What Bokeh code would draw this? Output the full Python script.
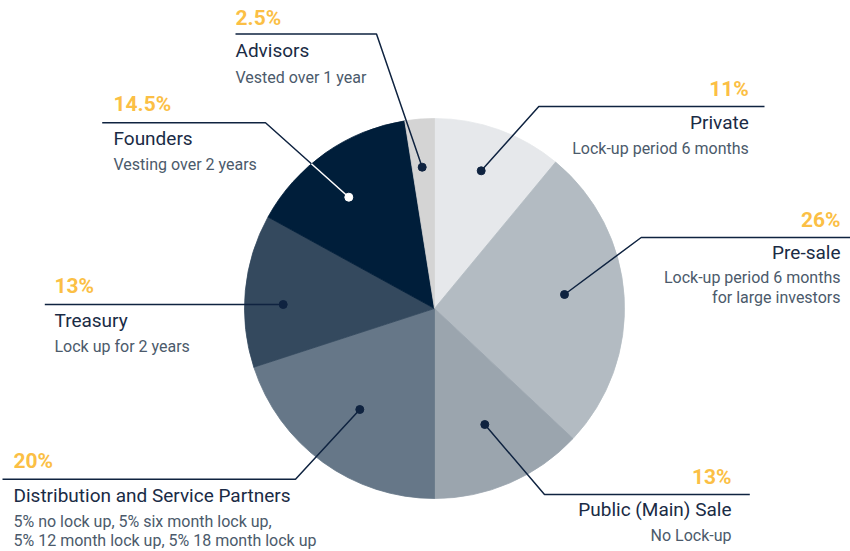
import numpy as np
from bokeh.plotting import figure
from bokeh.models import Range1d
from bokeh.core.properties import value
from bokeh.embed import file_html
from bokeh.resources import INLINE

# ---- data ----
names = ["Private", "Pre-sale", "Public (Main) Sale", "Distribution and Service Partners",
         "Treasury", "Founders", "Advisors"]
shares = [11, 26, 13, 20, 13, 14.5, 2.5]
pct_labels = ["11%", "26%", "13%", "20%", "13%", "14.5%", "2.5%"]
notes = [
    ["Lock-up period 6 months"],
    ["Lock-up period 6 months", "for large investors"],
    ["No Lock-up"],
    ["5% no lock up, 5% six month lock up,", "5% 12 month lock up, 5% 18 month lock up"],
    ["Lock up for 2 years"],
    ["Vesting over 2 years"],
    ["Vested over 1 year"],
]
colors = ["#e6e8eb", "#b3bbc2", "#9ba5ae", "#667788", "#34495e", "#001e3a", "#d4d4d4"]

# ---- layout (screen pixel coordinates, y downward) ----
W, H = 850, 551
CX, CY, R = 434, 308, 190
anchors = [(480.7, 170.3), (564, 294), (484.3, 424), (359.3, 409), (282.7, 304), (348.3, 196.7), (421.7, 166.7)]
elbows = [[(538.3, 106), (764, 106)], [(640.7, 237), (850, 237)], [(544, 494), (749.3, 494)],
          [(295, 478.7), (2, 478.7)], [(44.3, 304)], [(265, 122.3), (101.7, 122.3)],
          [(376, 33.5), (235, 33.5)]]
# text block: x, align, baseline of pct, title, first note, note line spacing
blocks = [(748.3, "right", 96.7, 130, 155, 20), (840, "right", 227, 260, 283.5, 20),
          (731, "right", 484.3, 516.7, 541.7, 20), (13, "left", 468.3, 503.3, 528.3, 18.5),
          (54, "left", 293.3, 328.3, 353.3, 20), (113, "left", 111, 145.7, 171, 20),
          (235, "left", 25, 58.3, 84, 20)]
# renderer baseline correction (px) for each text size
OFF_PCT, OFF_TITLE, OFF_NOTE = 8, 8, 7

NAVY = "#0f2340"
TITLE = "#1a2b45"
NOTE = "#4b5a6b"
GOLD = "#fbbf45"
FONT = value("Roboto")


def Y(y):
    return H - y


p = figure(width=W, height=H, output_backend="svg", toolbar_location=None,
           x_range=Range1d(0, W), y_range=Range1d(0, H),
           x_axis_type=None, y_axis_type=None, min_border=0)
p.outline_line_color = None
p.grid.visible = False

# slices, clockwise from 12 o'clock
fr = np.array(shares, dtype=float) / sum(shares)
cum = np.concatenate([[0], np.cumsum(fr)])
starts = np.pi / 2 - 2 * np.pi * cum[1:]
ends = np.pi / 2 - 2 * np.pi * cum[:-1]
p.wedge(x=[CX] * len(shares), y=[Y(CY)] * len(shares), radius=R,
        start_angle=starts, end_angle=ends, fill_color=colors,
        line_color=colors, line_width=0.8)

# leader lines
for i, (a, el) in enumerate(zip(anchors, elbows)):
    pts = [a] + el
    p.line([q[0] for q in pts], [Y(q[1]) for q in pts], line_color=NAVY, line_width=1.5)

# Founders: line segment inside its dark slice drawn white
i = names.index("Founders")
D = np.array(anchors[i]); E = np.array(elbows[i][0]); C = np.array([CX, CY])
v = E - D; w = D - C
a_, b_, c_ = v @ v, 2 * (w @ v), w @ w - R * R
t = (-b_ + np.sqrt(b_ * b_ - 4 * a_ * c_)) / (2 * a_)
Pin = D + t * v
p.line([D[0], Pin[0]], [Y(D[1]), Y(Pin[1])], line_color="white", line_width=1.5)

dot_colors = [NAVY] * len(names)
dot_colors[i] = "white"
p.scatter([q[0] for q in anchors], [Y(q[1]) for q in anchors], size=8,
          fill_color=dot_colors, line_color=dot_colors)

# texts
for k, (x, al, yp, yt, yn, dy) in enumerate(blocks):
    p.text([x], [Y(yp - OFF_PCT)], text=[pct_labels[k]], text_font=FONT, text_font_size="21px",
           text_font_style="bold", text_color=GOLD, text_align=al, text_baseline="alphabetic")
    p.text([x], [Y(yt - OFF_TITLE)], text=[names[k]], text_font=FONT, text_font_size="19px",
           text_color=TITLE, text_align=al, text_baseline="alphabetic")
    for j, line in enumerate(notes[k]):
        p.text([x], [Y(yn + j * dy - OFF_NOTE)], text=[line], text_font=FONT, text_font_size="16px",
               text_color=NOTE, text_align=al, text_baseline="alphabetic")

open("out.html", "w").write(file_html(p, INLINE))
